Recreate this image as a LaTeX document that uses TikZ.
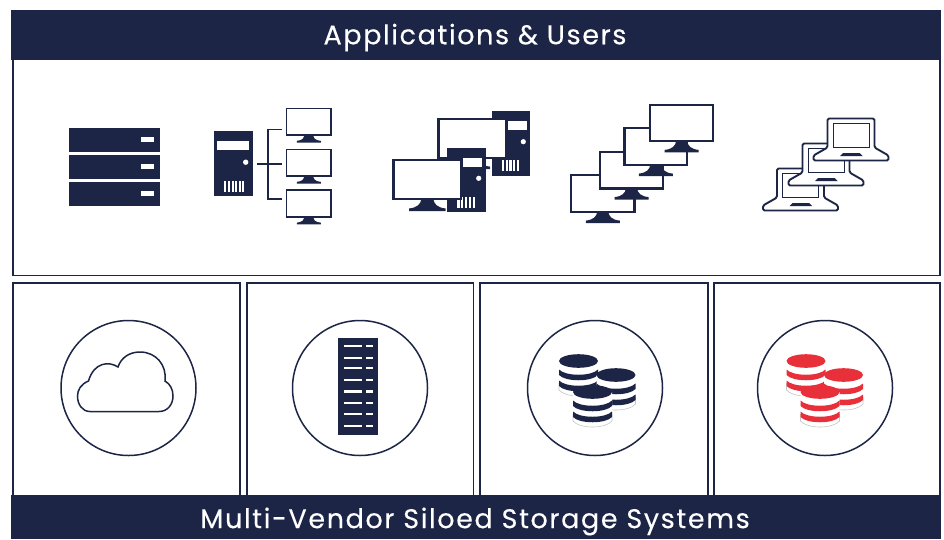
\documentclass[tikz,border=0pt]{standalone}
\usepackage{fontspec}
\setmainfont{Poppins}
\definecolor{navy}{HTML}{1C2545}
\definecolor{dbred}{HTML}{E7303A}
\tikzset{
  x=1pt,y=-1pt,
  panel/.style={draw=navy,line width=1.7pt,fill=white},
  banner/.style={fill=navy,draw=none},
  ring/.style={draw=navy,line width=1.5pt,fill=white},
  titletext/.style={text=white,font=\fontsize{27}{32}\selectfont,inner sep=0pt}
}
% x0 y0 w h linewidth standHalfWidth standHeight
\newcommand{\monitor}[7]{%
  \begin{scope}[shift={(#1+#3/2,#2+#4)},xscale=#6,yscale=#7]
  \fill[navy] (-.33,0) -- (.33,0)
     .. controls (.36,.4) and (.55,.72) .. (1,.78)
     -- (1,1) -- (-1,1) -- (-1,.78)
     .. controls (-.55,.72) and (-.36,.4) .. (-.33,0) -- cycle;
  \end{scope}
  \draw[navy,fill=white,line width=#5] (#1,#2) rectangle (#1+#3,#2+#4);
}
\newcommand{\laptop}[2]{%
  \draw[navy,line width=1.9pt,fill=white,rounded corners=1.5pt,line join=round]
    (#1,#2+29) -- (#1,#2) -- (#1+47,#2) -- (#1+47,#2+29) -- (#1+61,#2+37) -- (#1+61,#2+42) -- (#1-14,#2+42) -- (#1-14,#2+37) -- cycle;
  \draw[navy,line width=1pt] (#1+5.5,#2+4.5) rectangle (#1+41.5,#2+29);
  \fill[navy] (#1+12.5,#2+37.5) -- (#1+15.5,#2+34.5) -- (#1+32,#2+34.5) -- (#1+35,#2+37.5) -- cycle;
}
\newcommand{\dbstack}[3]{%
  \begin{scope}[shift={(#1,#2)}]
   \fill[white] (-19.5,0) -- (-19.5,29) .. controls (-13,37) and (13,37) .. (19.5,29) -- (19.5,0) -- cycle;
   \draw[gray!45,line width=.6pt] (-19.5,22) -- (-19.5,29) .. controls (-13,37) and (13,37) .. (19.5,29) -- (19.5,22);
   \fill[#3] (-19.5,19.5) -- (-19.5,25) .. controls (-13,32) and (13,32) .. (19.5,25) -- (19.5,19.5) .. controls (13,26.5) and (-13,26.5) .. (-19.5,19.5) -- cycle;
   \fill[#3] (-19.5,8.5) -- (-19.5,14) .. controls (-13,21) and (13,21) .. (19.5,14) -- (19.5,8.5) .. controls (13,15.5) and (-13,15.5) .. (-19.5,8.5) -- cycle;
   \fill[#3] (0,0) ellipse[x radius=19.5,y radius=6.8];
  \end{scope}
}
\begin{document}
\begin{tikzpicture}
\useasboundingbox (0,0) rectangle (944,539);
\fill[white] (0,0) rectangle (944,539);
% top panel
\node[panel,minimum width=927.5pt,minimum height=264pt,inner sep=0pt,anchor=north west] (apps) at (11.8,10.5) {};
\node[banner,minimum width=929.5pt,minimum height=50pt,inner sep=0pt,anchor=north west] (top) at (11,10) {};
\node[titletext] (toptext) at (475,37.5) {\addfontfeature{LetterSpace=6,FakeBold=0.25}Applications \& Users};
% lower panels
\node[panel,minimum width=227pt,minimum height=230pt,inner sep=0pt,anchor=north west] (p1) at (12,282) {};
\node[panel,minimum width=226.5pt,minimum height=230pt,inner sep=0pt,anchor=north west] (p2) at (246,282) {};
\node[panel,minimum width=227.5pt,minimum height=230pt,inner sep=0pt,anchor=north west] (p3) at (479.3,282) {};
\node[panel,minimum width=226pt,minimum height=230pt,inner sep=0pt,anchor=north west] (p4) at (713.3,282) {};
\node[banner,minimum width=929.5pt,minimum height=44.5pt,inner sep=0pt,anchor=north west] (bot) at (11,494.5) {};
\node[titletext] (bottext) at (475,521.5) {\addfontfeature{LetterSpace=6,FakeBold=0.25}Multi-Vendor Siloed Storage Systems};
% rings
\node[ring,circle,minimum size=135pt,inner sep=0pt] (c1) at (128.5,388) {};
\node[ring,circle,minimum size=135pt,inner sep=0pt] (c2) at (360,388) {};
\node[ring,circle,minimum size=135pt,inner sep=0pt] (c3) at (595,388) {};
\node[ring,circle,minimum size=135pt,inner sep=0pt] (c4) at (825,388) {};
% server rack
\foreach \yy in {128.3,155.3,182.3}{
  \fill[navy] (69,\yy) rectangle (159.5,\yy+23.5);
  \fill[white] (141,\yy+8.7) rectangle (153.7,\yy+14);
}
% tower with three monitors
\fill[navy] (214,131) rectangle (252.7,196);
\fill[white] (217.3,140.7) rectangle (249.3,150.3);
\fill[white] (245.7,162.2) circle (2.7);
\foreach \xx in {224.3,228,231.6,235.2,238.8,241.6}{\fill[white] (\xx,180.7) rectangle (\xx+1.9,191.7);}
\draw[navy,line width=1.7pt] (257,164) -- (282,164);
\draw[navy,line width=1.7pt] (282,129.5) -- (267.8,129.5) -- (267.8,199) -- (282,199);
\monitor{286.5}{108.5}{44.5}{26.5}{1.7pt}{12}{7.5}
\monitor{286.5}{149.5}{44.5}{26.5}{1.7pt}{12}{7.5}
\monitor{286.5}{190.3}{44.5}{26.5}{1.7pt}{12}{7.5}
% two workstations
\fill[navy] (491.7,111) rectangle (530,175.7);
\fill[white] (508.3,120.7) rectangle (527.3,130);
\fill[white] (523.3,141.7) circle (2.6);
\foreach \xx in {501.7,505.5,509.3,513.1,516.9}{\fill[white] (\xx,160) rectangle (\xx+2.2,171);}
\monitor{438.4}{118.8}{67.3}{39.2}{2.2pt}{18}{11}
\fill[navy] (447.3,147.7) rectangle (485.7,212.3);
\fill[white] (463.3,158.3) rectangle (482.3,167.3);
\fill[white] (478.7,178.3) circle (2.6);
\foreach \xx in {457.3,461.1,464.9,468.7,472.5}{\fill[white] (\xx,196.7) rectangle (\xx+2.2,208.3);}
\monitor{393.4}{160.1}{67.9}{39}{2.2pt}{18.3}{12}
% four monitors
\monitor{571}{175}{63.5}{37}{2.2pt}{17}{11}
\monitor{600}{152}{63}{36.5}{2.2pt}{17}{11}
\monitor{624.4}{128}{62.8}{37}{2.2pt}{17}{11}
\monitor{650}{104.8}{63.3}{36.5}{2.2pt}{17}{11}
% laptops
\laptop{777}{168.5}
\laptop{802.5}{143.5}
\laptop{827.5}{118.5}
% cloud
\draw[navy,line width=1.5pt,fill=white]
  (90,411.5) -- (159,411.5)
  .. controls (168,411.5) and (173,404) .. (173,396)
  .. controls (173,389) and (170,384) .. (165,381)
  .. controls (167,365) and (156,352) .. (140,352)
  .. controls (129,352) and (121,358) .. (118,367)
  .. controls (109,361) and (94,362) .. (88.5,381)
  .. controls (81,384) and (77.5,390) .. (77.5,396)
  .. controls (77.5,404) and (82,411.5) .. (90,411.5) -- cycle;
% tall rack
\fill[navy] (338,338) rectangle (378,435);
\foreach \yy in {345,357,367,378.5,390.3,401.5,413,424.7}{
  \fill[white] (343.5,\yy) rectangle (362,\yy+2.2);
  \fill[white] (366,\yy) rectangle (372.5,\yy+2.2);
}
% databases
\dbstack{578.5}{361}{navy}
\dbstack{616}{375}{navy}
\dbstack{592.5}{392}{navy}
\dbstack{806}{361}{dbred}
\dbstack{843.5}{375}{dbred}
\dbstack{820}{392}{dbred}
\end{tikzpicture}
\end{document}
